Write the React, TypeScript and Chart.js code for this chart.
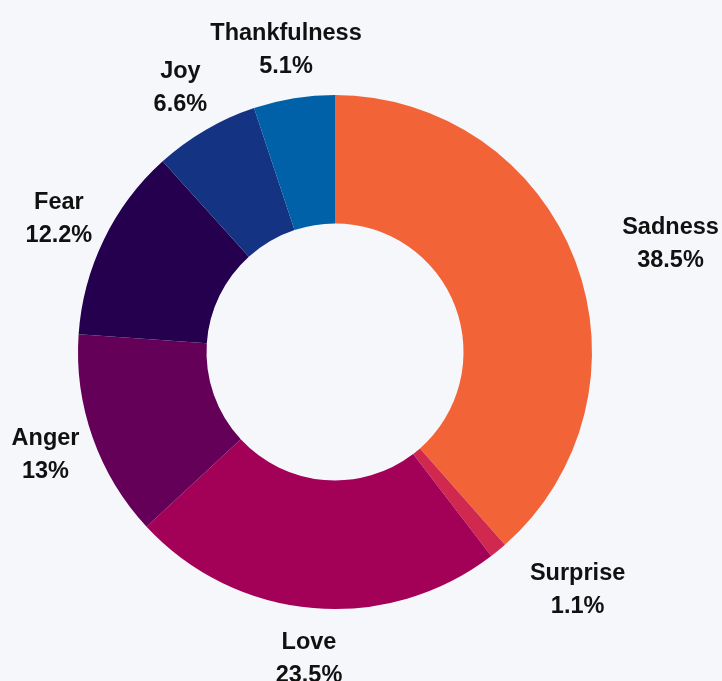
import React, { useEffect, useRef } from "react";
import { Chart, registerables } from "chart.js";

Chart.register(...registerables);

const categories = ["Sadness", "Surprise", "Love", "Anger", "Fear", "Joy", "Thankfulness"];
const values = [38.5, 1.1, 23.5, 13, 12.2, 6.6, 5.1];
const colors = ["#f36338", "#d1284f", "#a30057", "#650058", "#25004f", "#153383", "#0061a9"];

const BG = "#f5f7fb";

const outsideLabels = {
  id: "outsideLabels",
  afterDatasetsDraw(chart: any) {
    const ctx = chart.ctx;
    const meta = chart.getDatasetMeta(0);
    const ds = chart.data.datasets[0];
    ctx.save();
    ctx.font = "bold 23.5px 'Liberation Sans', Arial, sans-serif";
    ctx.fillStyle = "#111111";
    ctx.textBaseline = "alphabetic";
    ctx.textAlign = "center";
    meta.data.forEach((arc: any, i: number) => {
      const p = arc.getProps(["x", "y", "startAngle", "endAngle", "outerRadius"], true);
      const mid = (p.startAngle + p.endAngle) / 2;
      const r = p.outerRadius + 50;
      let px = p.x + Math.cos(mid) * r;
      const py = p.y + Math.sin(mid) * r;
      const l1 = String(chart.data.labels[i]);
      const l2 = String(ds.data[i]) + "%";
      if (Math.cos(mid) > 0.01) {
        const w = Math.max(ctx.measureText(l1).width, ctx.measureText(l2).width);
        px += w / 2;
      }
      ctx.fillText(l1, px, py - 9);
      ctx.fillText(l2, px, py + 24);
    });
    ctx.restore();
  },
};

export default function App() {
  const ref = useRef<HTMLCanvasElement | null>(null);
  useEffect(() => {
    document.body.style.margin = "0";
    document.body.style.background = BG;
    const chart = new Chart(ref.current as HTMLCanvasElement, {
      type: "doughnut",
      data: {
        labels: categories,
        datasets: [
          {
            data: values,
            backgroundColor: colors,
            borderWidth: 0,
          },
        ],
      },
      options: {
        animation: false,
        responsive: false,
        cutout: "50%",
        layout: { padding: { top: 95, bottom: 72, left: 78, right: 130 } },
        plugins: {
          legend: { display: false },
          tooltip: { enabled: false },
        },
      },
      plugins: [outsideLabels],
    });
    return () => chart.destroy();
  }, []);
  return (
    <div style={{ width: 722, height: 681, background: BG }}>
      <canvas ref={ref} width={722} height={681} style={{ display: "block" }} />
    </div>
  );
}
